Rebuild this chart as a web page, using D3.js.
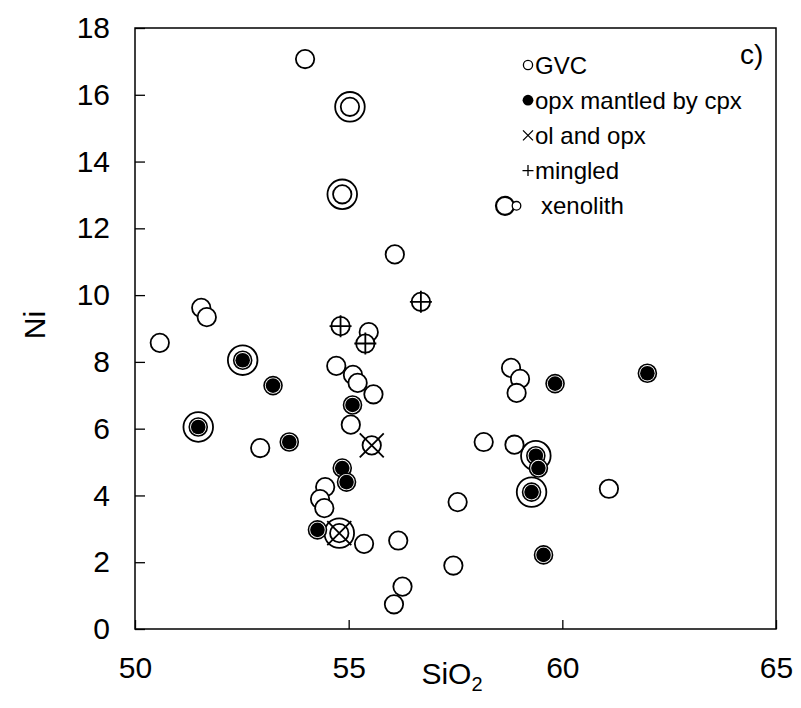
<!DOCTYPE html>
<html>
  <head>
    <meta charset="utf-8">
    <title>Ni vs SiO2</title>
    <script src="https://cdnjs.cloudflare.com/ajax/libs/d3/7.8.5/d3.min.js"></script>
    <style>
      body { margin: 0; background: #fff; }
      text { font-family: Arial, "Liberation Sans", sans-serif; fill: #000; }
    </style>
  </head>
  <body>
    <script>

      // [SiO2, Ni]
      var gvc = [
        [53.98, 17.07], [55.03, 15.64], [54.85, 13.02], [56.08, 11.22],
        [51.55, 9.62], [51.68, 9.34], [50.58, 8.57], [55.47, 8.89],
        [54.71, 7.88], [55.10, 7.61], [55.21, 7.37], [55.58, 7.03],
        [55.05, 6.12], [52.93, 5.42], [54.45, 4.25], [54.33, 3.89],
        [54.43, 3.62], [55.36, 2.55], [56.16, 2.65], [56.26, 1.27],
        [56.06, 0.74], [57.55, 3.80], [57.45, 1.90], [58.80, 7.82],
        [59.01, 7.49], [58.93, 7.07], [58.16, 5.60], [58.88, 5.52],
        [61.09, 4.20]
      ];
      var opxMantled = [
        [52.52, 8.05], [53.23, 7.29], [55.09, 6.71], [51.48, 6.05],
        [53.61, 5.60], [54.85, 4.82], [54.95, 4.40], [54.27, 2.97],
        [59.83, 7.35], [61.99, 7.66], [59.38, 5.19], [59.44, 4.82],
        [59.28, 4.10], [59.56, 2.22]
      ];
      var olOpx = [[55.54, 5.50], [54.78, 2.87]];
      var mingled = [[54.81, 9.07], [55.39, 8.55], [56.69, 9.80]];
      // samples that are xenoliths (big outer ring)
      var xenolith = [
        [55.03, 15.64], [54.85, 13.02], [52.52, 8.05], [51.48, 6.05],
        [59.38, 5.19], [59.28, 4.10], [54.78, 2.87]
      ];

      var xTicks = [50, 55, 60, 65];
      var yTicks = [0, 2, 4, 6, 8, 10, 12, 14, 16, 18];
      var legendLabels = ["GVC", "opx mantled by cpx", "ol and opx", "mingled", "xenolith"];

      var outerWidth = 801, outerHeight = 708;
      var margin = { left: 135, top: 28, right: 25, bottom: 79 };
      var innerWidth = outerWidth - margin.left - margin.right;
      var innerHeight = outerHeight - margin.top - margin.bottom;

      var svg = d3.select("body").append("svg")
        .attr("width", outerWidth)
        .attr("height", outerHeight);
      var g = svg.append("g")
        .attr("transform", "translate(" + margin.left + "," + margin.top + ")");

      var xScale = d3.scaleLinear().domain([50, 65]).range([0, innerWidth]);
      var yScale = d3.scaleLinear().domain([0, 18]).range([innerHeight, 0]);

      // axes, ticks pointing inward
      var xAxisG = g.append("g")
        .attr("transform", "translate(0," + innerHeight + ")")
        .call(d3.axisBottom(xScale).tickValues(xTicks).tickSize(-9).tickPadding(28));
      var yAxisG = g.append("g")
        .call(d3.axisLeft(yScale).tickValues(yTicks).tickSize(-10).tickPadding(25));

      [xAxisG, yAxisG].forEach(function (a) {
        a.attr("font-size", null).attr("font-family", null);
        a.select(".domain").remove();
        a.selectAll("line").attr("stroke", "#000").attr("stroke-width", 1.3);
        a.selectAll("text").attr("font-size", 30).attr("fill", "#000");
      });

      g.append("rect")
        .attr("width", innerWidth)
        .attr("height", innerHeight)
        .attr("fill", "none")
        .attr("stroke", "#000")
        .attr("stroke-width", 1.5);

      // axis titles
      svg.append("text")
        .attr("transform", "translate(45,325) rotate(-90)")
        .attr("text-anchor", "middle")
        .attr("font-size", 30)
        .text("Ni");
      var xt = svg.append("text")
        .attr("x", 452)
        .attr("y", 684)
        .attr("text-anchor", "middle")
        .attr("font-size", 30);
      xt.append("tspan").text("SiO");
      xt.append("tspan").attr("font-size", 20).attr("dy", 7).text("2");

      function px(d) { return xScale(d[0]); }
      function py(d) { return yScale(d[1]); }

      // xenolith outer rings first
      g.selectAll(".xeno").data(xenolith).enter().append("circle")
        .attr("class", "xeno")
        .attr("cx", px).attr("cy", py).attr("r", 14.8)
        .attr("fill", "#fff").attr("stroke", "#000").attr("stroke-width", 1.8);

      // GVC open circles
      g.selectAll(".gvc").data(gvc).enter().append("circle")
        .attr("class", "gvc")
        .attr("cx", px).attr("cy", py).attr("r", 9.2)
        .attr("fill", "#fff").attr("stroke", "#000").attr("stroke-width", 1.8);

      // opx mantled by cpx: ring + black core
      var om = g.selectAll(".om").data(opxMantled).enter().append("g")
        .attr("class", "om")
        .attr("transform", function (d) { return "translate(" + px(d) + "," + py(d) + ")"; });
      om.append("circle").attr("r", 9)
        .attr("fill", "#fff").attr("stroke", "#000").attr("stroke-width", 1.6);
      om.append("circle").attr("r", 7.3).attr("fill", "#000");

      // ol and opx: circle with X
      var oo = g.selectAll(".oo").data(olOpx).enter().append("g")
        .attr("class", "oo")
        .attr("transform", function (d) { return "translate(" + px(d) + "," + py(d) + ")"; });
      oo.append("circle").attr("r", 9.2)
        .attr("fill", "#fff").attr("stroke", "#000").attr("stroke-width", 1.8);
      oo.append("path").attr("d", "M-12,-12L12,12M-12,12L12,-12")
        .attr("stroke", "#000").attr("stroke-width", 1.8);

      // mingled: circle with +
      var mg = g.selectAll(".mg").data(mingled).enter().append("g")
        .attr("class", "mg")
        .attr("transform", function (d) { return "translate(" + px(d) + "," + py(d) + ")"; });
      mg.append("circle").attr("r", 9.2)
        .attr("fill", "#fff").attr("stroke", "#000").attr("stroke-width", 1.8);
      mg.append("path").attr("d", "M-11,0L11,0M0,-11L0,11")
        .attr("stroke", "#000").attr("stroke-width", 1.8);

      // legend
      var lg = svg.append("g");
      var lx = 528, ly0 = 65, ldy = 35.2;
      lg.append("circle").attr("cx", lx).attr("cy", ly0).attr("r", 4.6)
        .attr("fill", "#fff").attr("stroke", "#000").attr("stroke-width", 1.3);
      lg.append("circle").attr("cx", lx).attr("cy", ly0 + ldy).attr("r", 5.4).attr("fill", "#000");
      lg.append("path")
        .attr("d", "M" + (lx - 5) + "," + (ly0 + 2 * ldy - 5) + "l10,10m0,-10l-10,10")
        .attr("stroke", "#000").attr("stroke-width", 1.3);
      lg.append("path")
        .attr("d", "M" + (lx - 5.5) + "," + (ly0 + 3 * ldy) + "h11m-5.5,-5.5v11")
        .attr("stroke", "#000").attr("stroke-width", 1.3);
      lg.append("circle").attr("cx", 505).attr("cy", ly0 + 4 * ldy).attr("r", 9)
        .attr("fill", "#fff").attr("stroke", "#000").attr("stroke-width", 2.2);
      lg.append("circle").attr("cx", 516.5).attr("cy", ly0 + 4 * ldy).attr("r", 4.3)
        .attr("fill", "#fff").attr("stroke", "#000").attr("stroke-width", 1.3);

      lg.selectAll("text").data(legendLabels).enter().append("text")
        .attr("x", function (d, i) { return i === 4 ? 541 : 535; })
        .attr("y", function (d, i) { return ly0 + i * ldy + 8.5; })
        .attr("font-size", 24)
        .text(function (d) { return d; });

      svg.append("text")
        .attr("x", 740).attr("y", 64)
        .attr("font-size", 28)
        .text("c)");

    </script>
  </body>
</html>
